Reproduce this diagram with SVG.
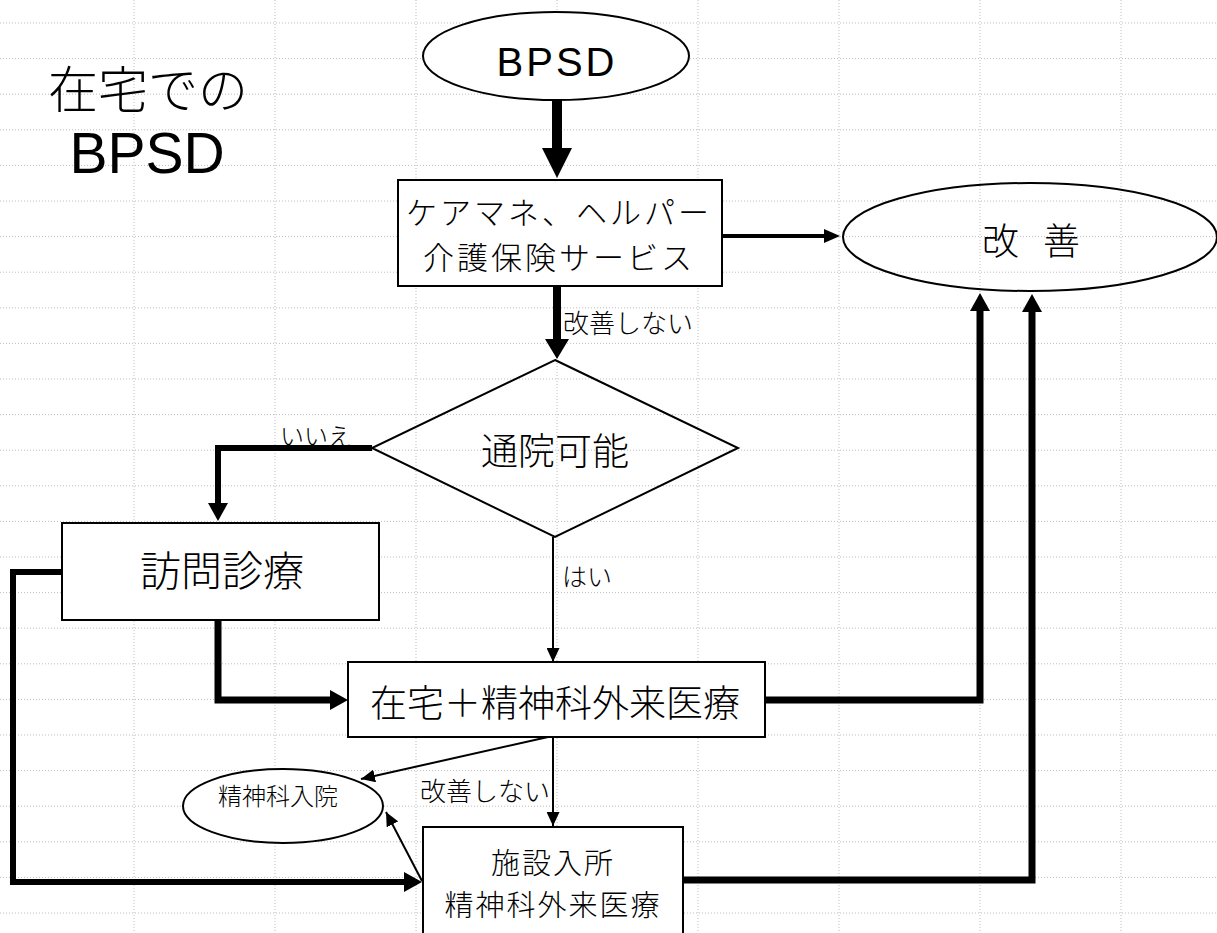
<svg xmlns="http://www.w3.org/2000/svg" width="1217" height="933" viewBox="0 0 1217 933">
<style>
.grid line{stroke:#bdbdbd;stroke-width:1;stroke-dasharray:1 2}
.node{fill:#fff;stroke:#000;stroke-width:2}
.open{fill:none;stroke:#000;stroke-width:2}
.jp{font-family:"Noto Sans CJK JP","Noto Sans CJK SC",sans-serif;font-weight:300;fill:#000}
.lat{font-family:"Liberation Sans",Arial,sans-serif;fill:#000}
.c{text-anchor:middle}
.conn path,.conn line,.conn polyline{fill:none;stroke:#000;stroke-linejoin:miter}
</style>
<defs>
<marker id="ahxl" markerUnits="userSpaceOnUse" markerWidth="31" markerHeight="30" refX="0" refY="15" orient="auto"><path d="M0,0 L30,15 L0,30 Z" fill="#000"/></marker>
<marker id="ahl" markerUnits="userSpaceOnUse" markerWidth="21" markerHeight="24" refX="0" refY="12" orient="auto"><path d="M0,0 L20,12 L0,24 Z" fill="#000"/></marker>
<marker id="ahm" markerUnits="userSpaceOnUse" markerWidth="19" markerHeight="20" refX="0" refY="10" orient="auto"><path d="M0,0 L18,10 L0,20 Z" fill="#000"/></marker>
<marker id="ahs" markerUnits="userSpaceOnUse" markerWidth="17" markerHeight="14" refX="0" refY="7" orient="auto"><path d="M0,0 L16,7 L0,14 Z" fill="#000"/></marker>
<marker id="aht" markerUnits="userSpaceOnUse" markerWidth="15" markerHeight="13" refX="14" refY="6.5" orient="auto"><path d="M0,0 L14,6.5 L0,13 Z" fill="#000"/></marker>
</defs>
<rect width="1217" height="933" fill="#fff"/>
<g class="grid">
<line x1="0" y1="23" x2="1217" y2="23"/><line x1="0" y1="58.6" x2="1217" y2="58.6"/><line x1="0" y1="94.2" x2="1217" y2="94.2"/><line x1="0" y1="129.8" x2="1217" y2="129.8"/><line x1="0" y1="165.4" x2="1217" y2="165.4"/><line x1="0" y1="201" x2="1217" y2="201"/><line x1="0" y1="236.6" x2="1217" y2="236.6"/><line x1="0" y1="272.2" x2="1217" y2="272.2"/><line x1="0" y1="307.8" x2="1217" y2="307.8"/><line x1="0" y1="343.4" x2="1217" y2="343.4"/><line x1="0" y1="379" x2="1217" y2="379"/><line x1="0" y1="414.6" x2="1217" y2="414.6"/><line x1="0" y1="450.2" x2="1217" y2="450.2"/><line x1="0" y1="485.8" x2="1217" y2="485.8"/><line x1="0" y1="521.4" x2="1217" y2="521.4"/><line x1="0" y1="557" x2="1217" y2="557"/><line x1="0" y1="592.6" x2="1217" y2="592.6"/><line x1="0" y1="628.2" x2="1217" y2="628.2"/><line x1="0" y1="663.8" x2="1217" y2="663.8"/><line x1="0" y1="699.4" x2="1217" y2="699.4"/><line x1="0" y1="735" x2="1217" y2="735"/><line x1="0" y1="770.6" x2="1217" y2="770.6"/><line x1="0" y1="806.2" x2="1217" y2="806.2"/><line x1="0" y1="841.8" x2="1217" y2="841.8"/><line x1="0" y1="877.4" x2="1217" y2="877.4"/><line x1="0" y1="913" x2="1217" y2="913"/>
<line x1="134" y1="0" x2="134" y2="933"/><line x1="275" y1="0" x2="275" y2="933"/><line x1="416" y1="0" x2="416" y2="933"/><line x1="557" y1="0" x2="557" y2="933"/><line x1="698" y1="0" x2="698" y2="933"/><line x1="839" y1="0" x2="839" y2="933"/><line x1="980" y1="0" x2="980" y2="933"/><line x1="1121" y1="0" x2="1121" y2="933"/>
</g>

<g id="title">
<text class="c" x="148" y="108"><tspan class="jp" font-size="50">在宅での</tspan><tspan class="lat" x="147" y="173" font-size="57">BPSD</tspan></text>
</g>

<g class="conn">
<line x1="557" y1="100" x2="557" y2="148" stroke-width="10" marker-end="url(#ahxl)"/>
<line x1="722" y1="236" x2="824" y2="236" stroke-width="4" marker-end="url(#ahs)"/>
<line x1="557" y1="286" x2="557" y2="339" stroke-width="8" marker-end="url(#ahl)"/>
<polyline points="372,448 218,448 218,503" stroke-width="6" marker-end="url(#ahm)"/>
<line x1="553" y1="537" x2="553" y2="662" stroke-width="2" marker-end="url(#aht)"/>
<polyline points="218,620 218,700 330,700" stroke-width="7" marker-end="url(#ahm)"/>
<polyline points="765,700 980,700 980,311" stroke-width="7" marker-end="url(#ahm)"/>
<polyline points="683,880 1032,880 1032,312" stroke-width="7" marker-end="url(#ahm)"/>
<polyline points="62,572 13,572 13,882 404,882" stroke-width="6" marker-end="url(#ahm)"/>
<line x1="548" y1="737" x2="361" y2="779" stroke-width="2" marker-end="url(#aht)"/>
<line x1="553" y1="737" x2="553" y2="826" stroke-width="2" marker-end="url(#aht)"/>
<line x1="422" y1="881" x2="386" y2="812" stroke-width="2" marker-end="url(#aht)"/>
<text class="jp" x="563" y="333" font-size="26">改善しない</text>
<text class="jp" x="280" y="445" font-size="24">いいえ</text>
<text class="jp" x="562" y="586" font-size="25">はい</text>
<text class="jp" x="420" y="801" font-size="26">改善しない</text>
</g>

<g id="n-bpsd">
<ellipse class="node" cx="556" cy="56" rx="133" ry="44"/>
<text class="lat c" x="557" y="76" font-size="40" letter-spacing="3">BPSD</text>
</g>

<g id="n-care">
<rect class="node" x="398" y="180" width="324" height="106"/>
<text class="jp c" x="559" y="224" font-size="31" letter-spacing="3">ケアマネ、ヘルパー<tspan x="559" y="269">介護保険サービス</tspan></text>
</g>

<g id="n-kaizen">
<ellipse class="open" cx="1030" cy="237" rx="187" ry="54"/>
<text class="jp c" x="1031" y="255" font-size="37" word-spacing="16">改 善</text>
</g>

<g id="n-tsuin">
<polygon class="open" points="555,360 738,448 555,537 372,448"/>
<text class="jp c" x="555" y="465" font-size="37">通院可能</text>
</g>

<g id="n-houmon">
<rect class="node" x="62" y="523" width="317" height="97"/>
<text class="jp c" x="222" y="586" font-size="41">訪問診療</text>
</g>

<g id="n-zaitaku">
<rect class="node" x="348" y="662" width="417" height="75"/>
<text class="jp c" x="555" y="717" font-size="37">在宅＋精神科外来医療</text>
</g>

<g id="n-nyuin">
<ellipse class="node" cx="283" cy="806" rx="100" ry="37"/>
<text class="jp c" x="278" y="805" font-size="24">精神科入院</text>
</g>

<g id="n-shisetsu">
<rect class="node" x="423" y="827" width="260" height="120"/>
<text class="jp c" x="553" y="874" font-size="29" letter-spacing="2">施設入所<tspan x="553" y="916">精神科外来医療</tspan></text>
</g>
</svg>
